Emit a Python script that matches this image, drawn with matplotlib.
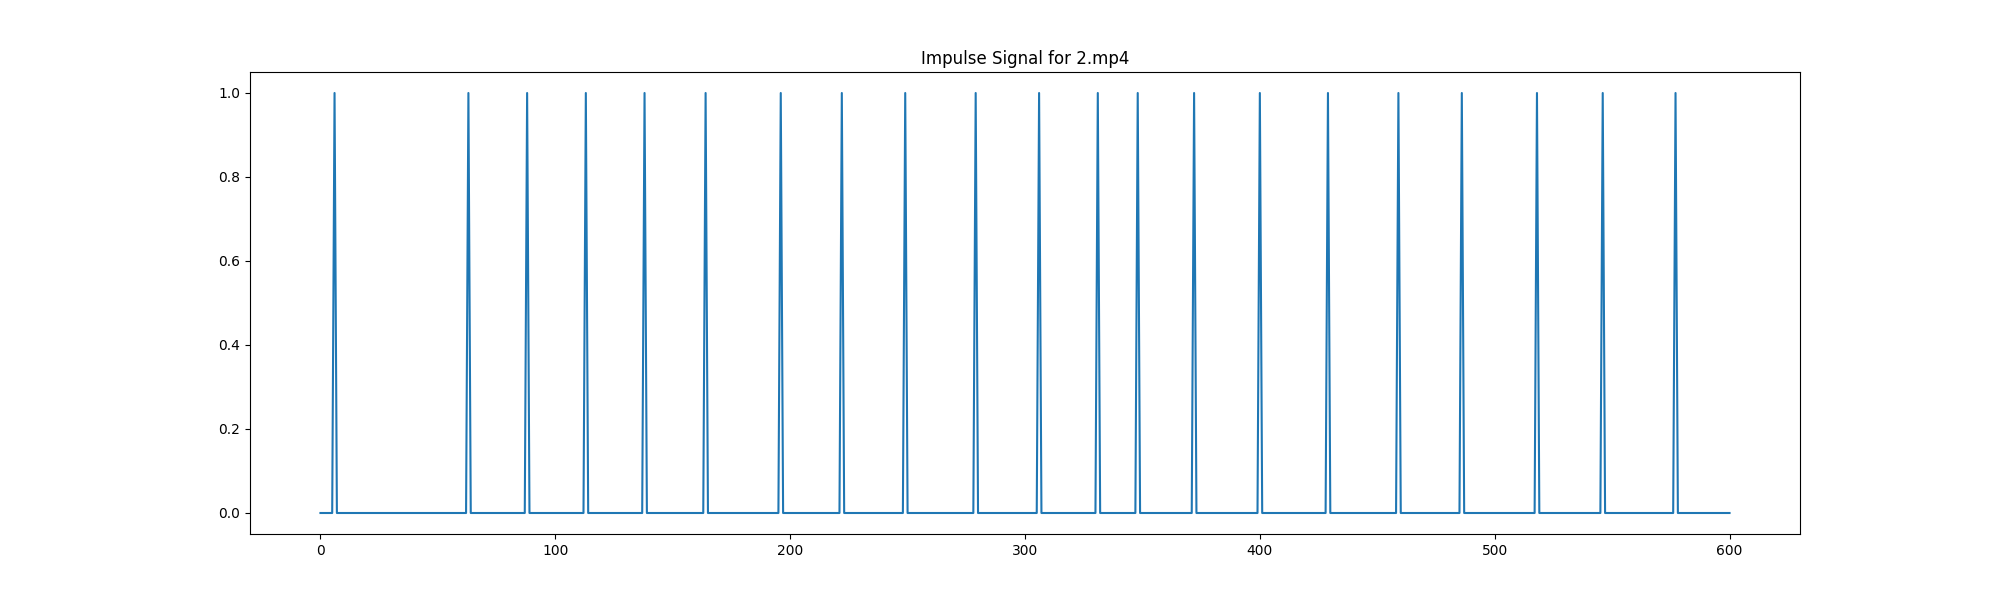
import numpy as np
import matplotlib
matplotlib.use("Agg")
import matplotlib.pyplot as plt

# Frames where an impulse occurs
impulse_frames = [6, 63, 88, 113, 138, 164, 196, 222, 249, 279, 306, 331,
                  348, 372, 400, 429, 459, 486, 518, 546, 577]
n_frames = 601

signal = np.zeros(n_frames)
signal[impulse_frames] = 1

fig, ax = plt.subplots(figsize=(20, 6), dpi=100)
ax.plot(np.arange(n_frames), signal)
ax.set_title('Impulse Signal for 2.mp4')

fig.savefig('out.png')
